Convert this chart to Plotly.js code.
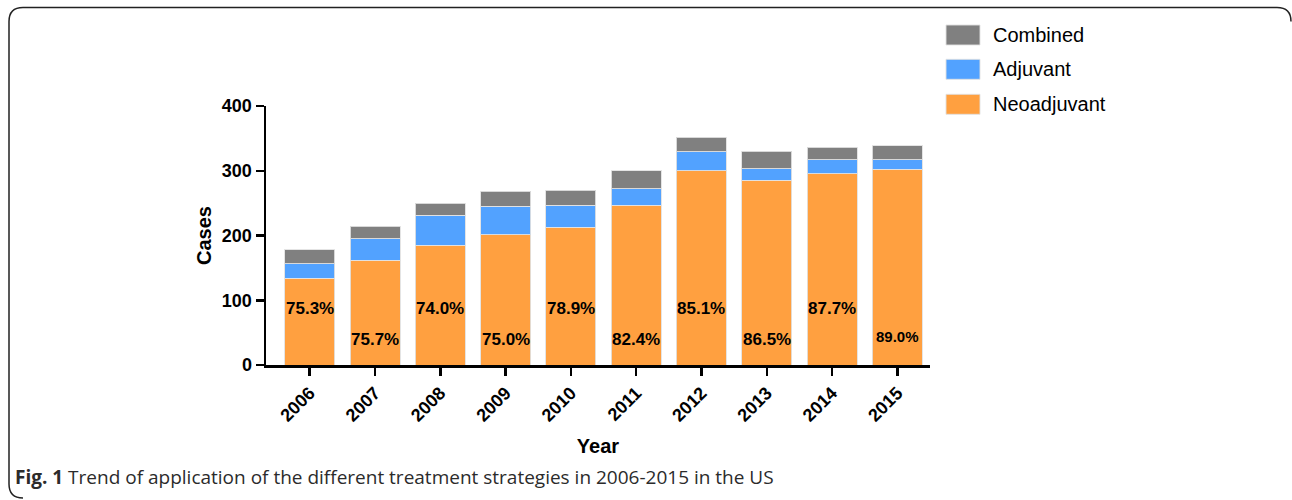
<!DOCTYPE html>
<html>
<head>
<meta charset="utf-8">
<script src="https://cdn.plot.ly/plotly-3.0.1.min.js"></script>
<style>
  html, body { margin: 0; padding: 0; background: #fff; }
  #chart { width: 1292px; height: 500px; }
</style>
</head>
<body>
<div id="chart"></div>
<script>
// ---- Data ----
const years = ['2006', '2007', '2008', '2009', '2010', '2011', '2012', '2013', '2014', '2015'];
const neoadjuvant = [134, 162, 185, 201, 213, 247, 300, 285, 295, 302];
const adjuvant = [22, 33, 46, 44, 34, 25, 29, 18, 22, 15];
const combined = [22, 19, 19, 23, 23, 28, 23, 27, 19, 22];
const neoPercent = ['75.3%', '75.7%', '74.0%', '75.0%', '78.9%', '82.4%', '85.1%', '86.5%', '87.7%', '89.0%'];
const seriesNames = ['Neoadjuvant', 'Adjuvant', 'Combined'];
const yTicks = [0, 100, 200, 300, 400];
const caption = 'Trend of application of the different treatment strategies in 2006-2015 in the US';

// ---- Layout geometry ----
const W = 1292, H = 500;
const M = { l: 266, r: 362, t: 106, b: 135 };
const plotW = W - M.l - M.r, plotH = H - M.t - M.b;
const px = x => (x - M.l) / plotW;          // pixel -> paper x
const py = y => (H - M.b - y) / plotH;      // pixel -> paper y

const colors = { Neoadjuvant: '#FFA040', Adjuvant: '#52A2FF', Combined: '#808080' };
const boldFont = 'Liberation Sans, Arial, sans-serif';
const narrowFont = 'Liberation Sans Narrow, Arial Narrow, Liberation Sans, sans-serif';

const seriesValues = [neoadjuvant, adjuvant, combined];
const traces = seriesNames.map((name, k) => ({
  type: 'bar',
  name: name,
  x: years,
  y: seriesValues[k],
  marker: { color: colors[name], line: { color: 'rgba(225,225,225,0.9)', width: 1 } },
  hoverinfo: 'x+y+name'
}));

// percentage labels inside the orange bars (alternating high / low)
// (category axis: annotation x is the category index)
const annotations = years.map((yr, i) => ({
  x: i, y: (i % 2 === 0) ? 87 : (i === years.length - 1 ? 44 : 39),
  xref: 'x', yref: 'y',
  text: neoPercent[i], showarrow: false,
  xanchor: 'center', yanchor: 'middle',
  font: { family: narrowFont, size: i === years.length - 1 ? 15 : 17, color: '#000', weight: 'bold' }
}));

// custom legend (large swatches)
const legendOrder = ['Combined', 'Adjuvant', 'Neoadjuvant'];
const legendTop = [25, 59.3, 94.3];
const shapes = [];
legendOrder.forEach((name, i) => {
  shapes.push({
    type: 'rect', xref: 'paper', yref: 'paper',
    x0: px(946), x1: px(980), y0: py(legendTop[i]), y1: py(legendTop[i] + 20),
    fillcolor: colors[name], line: { color: 'rgba(225,225,225,0.9)', width: 1 }
  });
  annotations.push({
    xref: 'paper', yref: 'paper', x: px(991), y: py(legendTop[i] + 10),
    xanchor: 'left', yanchor: 'middle', showarrow: false,
    text: name, font: { family: 'Liberation Sans, Arial, sans-serif', size: 20, color: '#000' }
  });
});

// caption
annotations.push({
  xref: 'paper', yref: 'paper', x: px(13), y: py(477),
  xanchor: 'left', yanchor: 'middle', showarrow: false,
  text: '<b>Fig. 1</b> ' + caption,
  font: { family: 'Open Sans, Noto Sans, sans-serif', size: 19, color: '#2b2b2b' }
});

// rounded frame
const fx0 = px(9), fx1 = px(1291), fy0 = py(7.5), fy1 = py(498);
const rx = 14 / plotW, ry = 14 / plotH;
shapes.push({
  type: 'path', xref: 'paper', yref: 'paper',
  path: `M ${fx0} ${fy1 + ry} L ${fx0} ${fy0 - ry} Q ${fx0} ${fy0} ${fx0 + rx} ${fy0} ` +
        `L ${fx1 - rx} ${fy0} Q ${fx1} ${fy0} ${fx1} ${fy0 - ry} ` +
        `M ${fx0} ${fy1 + ry} Q ${fx0} ${fy1} ${fx0 + rx} ${fy1}`,
  line: { color: '#222', width: 1.5 }
});

const layout = {
  width: W, height: H,
  margin: M,
  paper_bgcolor: '#fff', plot_bgcolor: '#fff',
  barmode: 'stack',
  bargap: 0.234,
  showlegend: false,
  xaxis: {
    type: 'category',
    range: [-0.67, 9.5],
    showline: true, linecolor: '#000', linewidth: 2.5,
    ticks: 'outside', ticklen: 8, tickwidth: 2.5, tickcolor: '#000',
    tickangle: -45,
    tickfont: { family: boldFont, size: 18, color: '#000', weight: 'bold' },
    showgrid: false, zeroline: false, fixedrange: true,
    title: { text: 'Year', standoff: 15, font: { family: boldFont, size: 20, color: '#000', weight: 'bold' } }
  },
  yaxis: {
    range: [0, 400],
    tickvals: yTicks,
    showline: true, linecolor: '#000', linewidth: 2.5,
    ticks: 'outside', ticklen: 8, tickwidth: 2.5, tickcolor: '#000',
    tickfont: { family: boldFont, size: 18, color: '#000', weight: 'bold' },
    showgrid: false, zeroline: false, fixedrange: true,
    title: { text: 'Cases', standoff: 5, font: { family: boldFont, size: 20, color: '#000', weight: 'bold' } }
  },
  annotations: annotations,
  shapes: shapes
};

Plotly.newPlot('chart', traces, layout, { displayModeBar: false, staticPlot: true });
</script>
</body>
</html>
